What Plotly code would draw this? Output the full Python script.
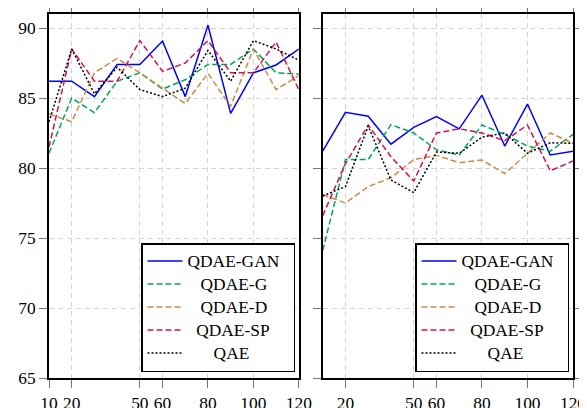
import plotly.graph_objects as go

x_vals = [10, 20, 30, 40, 50, 60, 70, 80, 90, 100, 110, 120]

series_names = ["QDAE-GAN", "QDAE-G", "QDAE-D", "QDAE-SP", "QAE"]

# Left panel values
left_gan = [86.2, 86.2, 85.1, 87.4, 87.4, 89.07, 85.1, 90.2, 83.9, 86.8, 87.36, 88.5]
left_g = [81.05, 85.0, 83.95, 86.2, 86.8, 85.64, 86.3, 87.4, 87.4, 88.5, 86.8, 86.7]
left_d = [83.86, 83.3, 86.8, 87.83, 86.8, 85.7, 84.6, 86.76, 84.4, 88.5, 85.6, 86.6]
left_sp = [81.5, 88.5, 86.2, 86.2, 89.1, 86.9, 87.5, 89.1, 86.8, 86.8, 89.0, 85.6]
left_qae = [83.3, 88.5, 85.3, 87.2, 85.6, 85.1, 85.7, 88.4, 86.2, 89.1, 88.5, 87.7]

# Right panel values
right_gan = [81.2, 83.98, 83.7, 81.7, 82.9, 83.67, 82.8, 85.2, 81.57, 84.57, 80.93, 81.2]
right_g = [74.1, 80.6, 80.6, 83.1, 82.5, 81.3, 80.93, 83.07, 82.4, 81.57, 81.2, 82.4]
right_d = [78.1, 77.5, 78.67, 79.3, 80.6, 80.9, 80.38, 80.57, 79.6, 81.05, 82.5, 81.76]
right_sp = [76.6, 80.3, 83.07, 80.8, 79.07, 82.5, 82.8, 82.5, 81.95, 83.07, 79.8, 80.5]
right_qae = [78.0, 78.67, 83.0, 79.14, 78.24, 81.14, 81.05, 82.2, 82.5, 81.05, 81.8, 81.76]

left_ticks = [10, 20, 50, 60, 80, 100, 120]
right_ticks = [20, 50, 60, 80, 100, 120]
y_ticks = [65, 70, 75, 80, 85, 90]

colors = ["#0000ff", "#00a65a", "#cd8a45", "#d5104f", "#000000"]
dashes = ["solid", "6px,3px", "6px,3px", "6px,3px", "2px,2px"]

# page body has an 8px margin, so the figure is placed at (8, 8)
OFF = 8
W, H = 587 - OFF, 408 - OFF
fig = go.Figure()

left_data = [left_gan, left_g, left_d, left_sp, left_qae]
right_data = [right_gan, right_g, right_d, right_sp, right_qae]

NB = "\u00a0"
pads = {"QDAE-GAN": (0, 2), "QDAE-G": (3, 0), "QDAE-D": (3, 0), "QDAE-SP": (2, 0), "QAE": (6, 0)}

for i, name in enumerate(series_names):
    lp, rp = pads[name]
    tail = (NB * rp + "\u200b") if rp else ""
    label = '<span style="font-size:17.4px">' + NB * lp + name + tail + "</span>"
    fig.add_trace(go.Scatter(x=x_vals, y=left_data[i], mode="lines", name=label,
                             line=dict(color=colors[i], dash=dashes[i], width=1.5),
                             xaxis="x", yaxis="y", legend="legend"))
    fig.add_trace(go.Scatter(x=x_vals, y=right_data[i], mode="lines", name=label,
                             line=dict(color=colors[i], dash=dashes[i], width=1.5),
                             xaxis="x2", yaxis="y2", legend="legend2"))

font = dict(family="Liberation Serif, Times New Roman, serif", size=17.4, color="black")
lfont = dict(family="Liberation Serif, Times New Roman, serif", size=15.4, color="black")

def px_x(p):
    return (p - OFF) / W

def px_y(p):
    return 1 - (p - OFF) / H

common_x = dict(range=[10, 120], showgrid=True, gridcolor="#d3d3d3", griddash="5px,4px",
                gridwidth=1, zeroline=False, showline=True, linecolor="black", linewidth=1.6,
                mirror="ticks", ticks="outside", ticklen=8, tickcolor="#777", tickwidth=1,
                tickfont=font, automargin=False)
common_y = dict(range=[65, 91], showgrid=True, gridcolor="#d3d3d3", griddash="5px,4px",
                gridwidth=1, zeroline=False, showline=True, linecolor="black", linewidth=1.6,
                ticks="outside", ticklen=8, tickcolor="#777", tickwidth=1,
                tickvals=y_ticks, tickfont=font, automargin=False)

legend_common = dict(bgcolor="white", bordercolor="black", borderwidth=1.5, font=lfont,
                     yanchor="top", xanchor="left", tracegroupgap=0, itemwidth=35,
                     y=px_y(243))

fig.update_layout(
    width=W, height=H,
    margin=dict(l=0, r=0, t=0, b=0),
    paper_bgcolor="white", plot_bgcolor="white",
    font=font,
    showlegend=True,
    xaxis=dict(domain=[px_x(49), px_x(298.8)], anchor="y", tickvals=left_ticks, **common_x),
    yaxis=dict(domain=[px_y(378), px_y(14)], anchor="x", mirror=True, showticklabels=True, **common_y),
    xaxis2=dict(domain=[px_x(322.7), px_x(573)], anchor="y2", tickvals=right_ticks, **common_x),
    yaxis2=dict(domain=[px_y(378), px_y(14)], anchor="x2", mirror="ticks", showticklabels=False, **common_y),
    legend=dict(x=px_x(141), **legend_common),
    legend2=dict(x=px_x(415), **legend_common),
)

fig.write_html("out.html")
